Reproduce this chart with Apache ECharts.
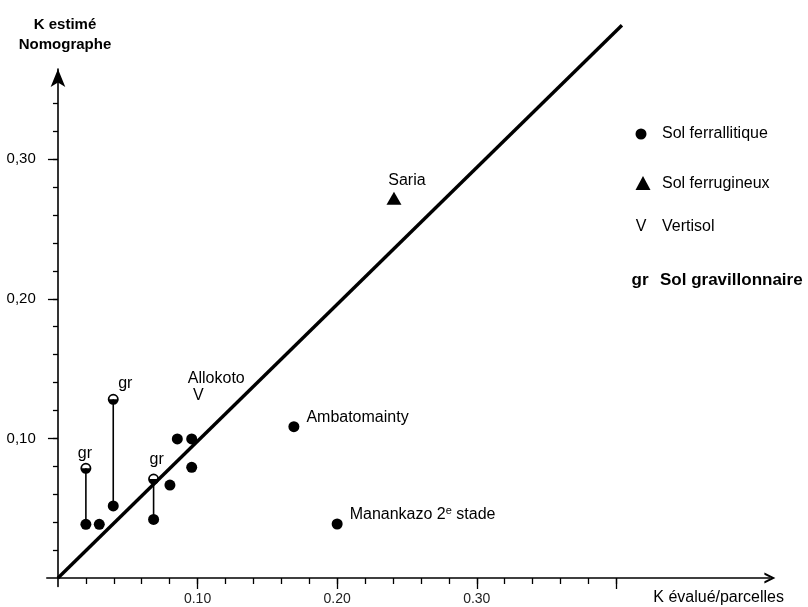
<!DOCTYPE html>
<html><head><meta charset="utf-8">
<script src="https://cdn.jsdelivr.net/npm/echarts@6/dist/echarts.min.js"></script>
<style>html,body{margin:0;padding:0;background:#fff}#c{width:808px;height:607px}</style>
</head><body><div id="c"></div>
<script>
// ---- data (K évalué / K estimé) ----
const lineOneToOne = [[0, 0], [0.404, 0.396]];
const ferrallitique = [[0.0200, 0.0385], [0.0296, 0.0385], [0.0396, 0.0516], [0.0685, 0.0420],
                       [0.0802, 0.0666], [0.0855, 0.0996], [0.0958, 0.0996], [0.0958, 0.0793]];
const ferrallitiqueNamed = [[0.169, 0.1084], [0.200, 0.0387]];
const ferrallitiqueNames = ['Ambatomainty', 'Manankazo 2e stade'];
const gravillonnaireTop = [[0.0200, 0.0786], [0.0396, 0.1280], [0.0685, 0.0709]];
const gravillonnaireBase = [[0.0200, 0.0385], [0.0396, 0.0516], [0.0685, 0.0420]];
const ferrugineux = [[0.2407, 0.272]];
const ferrugineuxNames = ['Saria'];
const vertisol = [[0.1005, 0.131]];
const vertisolNames = ['Allokoto'];
const xTickLabels = [0.10, 0.20, 0.30];
const yTickLabels = [0.10, 0.20, 0.30];
const xMajorTicks = [0.10, 0.20, 0.30, 0.40];
const yMajorTicks = [0.10, 0.20, 0.30];
const xMinorTicks = [0.02,0.04,0.06,0.08,0.10,0.12,0.14,0.16,0.18,0.20,0.22,0.24,0.26,0.28,0.30,0.32,0.34,0.36,0.38,0.40];
const yMinorTicks = [0.02,0.04,0.06,0.08,0.10,0.12,0.14,0.16,0.18,0.20,0.22,0.24,0.26,0.28,0.30,0.32,0.34];

// ---- layout / style ----
const FONT = "'Liberation Sans', Arial, Helvetica, sans-serif";
const INK = '#000';
const grLabelOffsets = [[-1, -15], [12, -16], [3, -19]];
const HALF = 'path://M0,5 A5,5 0 1,1 10,5 A5,5 0 1,1 0,5 Z M1.6,5 L8.4,5 A3.4,3.4 0 0,0 1.6,5 Z';

const X_MIN = -0.008, X_MAX = 0.510, Y_MIN = -0.006, Y_MAX = 0.3646;

function baseAxis(min, max) {
  return { type: 'value', min: min, max: max, gridIndex: 0, splitLine: { show: false } };
}
const solid = { color: INK, opacity: 1 };

const chart = echarts.init(document.getElementById('c'), null, { renderer: 'canvas' });

const series = [];
series.push({
  type: 'line', data: lineOneToOne, symbol: 'none', silent: true, z: 1, clip: false,
  lineStyle: { color: INK, width: 3.4, opacity: 1 }
});
gravillonnaireTop.forEach(function (p, i) {
  series.push({
    type: 'line', data: [p, gravillonnaireBase[i]], symbol: 'none', silent: true, z: 2, clip: false,
    lineStyle: { color: INK, width: 1.6, opacity: 1 }
  });
});
series.push({
  type: 'scatter', data: ferrallitique, symbol: 'circle', symbolSize: 11, z: 3, clip: false,
  itemStyle: solid
});
series.push({
  type: 'scatter', z: 3, symbol: 'circle', symbolSize: 11, itemStyle: solid, clip: false,
  data: ferrallitiqueNamed.map(function (v, i) { return { name: ferrallitiqueNames[i], value: v }; }),
  label: {
    show: true, position: 'right', distance: 7, offset: [0, -9], opacity: 1,
    fontFamily: FONT, fontSize: 16, color: INK,
    formatter: function (p) {
      return p.name.replace(' 2e ', ' 2{sup|e} ');
    },
    rich: { sup: { fontSize: 11, verticalAlign: 'top', padding: [0, 0, 8, 0], fontFamily: FONT, color: INK } }
  }
});
series.push({
  type: 'scatter', z: 3, symbol: HALF, symbolSize: 11, itemStyle: solid, clip: false,
  data: gravillonnaireTop.map(function (v, i) {
    return { value: v, label: { offset: grLabelOffsets[i] } };
  }),
  label: { show: true, position: 'inside', formatter: 'gr', fontFamily: FONT, fontSize: 16, color: INK, opacity: 1 }
});
series.push({
  type: 'scatter', z: 3, symbol: 'triangle', symbolSize: [15, 13], itemStyle: solid, clip: false,
  data: ferrugineux.map(function (v, i) { return { name: ferrugineuxNames[i], value: v }; }),
  label: { show: true, position: 'inside', offset: [13, -18], formatter: '{b}', opacity: 1,
           fontFamily: FONT, fontSize: 16, color: INK }
});
series.push({
  type: 'scatter', z: 3, symbol: 'circle', symbolSize: 1, itemStyle: { color: 'rgba(0,0,0,0)' }, clip: false,
  data: vertisol.map(function (v, i) { return { name: vertisolNames[i], value: v }; }),
  label: { show: true, position: 'inside', formatter: 'V', fontFamily: FONT, fontSize: 16, color: INK, opacity: 1 }
});
series.push({
  type: 'scatter', z: 3, symbol: 'circle', symbolSize: 1, itemStyle: { color: 'rgba(0,0,0,0)' }, clip: false,
  data: vertisol.map(function (v, i) { return { name: vertisolNames[i], value: v }; }),
  label: { show: true, position: 'inside', offset: [18, -17], formatter: '{b}', opacity: 1,
           fontFamily: FONT, fontSize: 16, color: INK }
});

const option = {
  animation: false,
  backgroundColor: '#fff',
  grid: { left: 46.8, top: 69, width: 723.1, height: 517.4, outerBoundsMode: 'none', containLabel: false },
  xAxis: [
    Object.assign(baseAxis(X_MIN, X_MAX), {
      position: 'bottom',
      axisLine: { show: true, onZero: true, symbol: ['none', 'path://M0,10 L5,0 L10,10 L8,10 L5,4 L2,10 Z'],
                  symbolSize: [11, 16], lineStyle: { color: INK, width: 1.6 } },
      axisTick: { show: true, inside: false, length: 6, customValues: xMinorTicks, lineStyle: { color: INK, width: 1.3 } },
      axisLabel: { show: true, customValues: xTickLabels, margin: 6, fontFamily: FONT, fontSize: 14, color: '#222',
                   formatter: function (v) { return v.toFixed(2); } }
    }),
    Object.assign(baseAxis(X_MIN, X_MAX), {
      position: 'bottom',
      axisLine: { show: true, onZero: true, symbol: 'none', lineStyle: { color: 'rgba(0,0,0,0)', width: 0 } },
      axisTick: { show: true, inside: false, length: 11, customValues: xMajorTicks, lineStyle: { color: INK, width: 1.3 } },
      axisLabel: { show: false }
    })
  ],
  yAxis: [
    Object.assign(baseAxis(Y_MIN, Y_MAX), {
      position: 'left',
      axisLine: { show: true, onZero: true, symbol: ['none', 'arrow'], symbolSize: [11, 18],
                  lineStyle: { color: INK, width: 1.6 } },
      axisTick: { show: true, inside: false, length: 5, customValues: yMinorTicks, lineStyle: { color: INK, width: 1.3 } },
      axisLabel: { show: true, customValues: yTickLabels, margin: 11, fontFamily: FONT, fontSize: 15, color: INK,
                   formatter: function (v) { return v.toFixed(2).replace('.', ','); } }
    }),
    Object.assign(baseAxis(Y_MIN, Y_MAX), {
      position: 'left',
      axisLine: { show: true, onZero: true, symbol: 'none', lineStyle: { color: 'rgba(0,0,0,0)', width: 0 } },
      axisTick: { show: true, inside: false, length: 10, customValues: yMajorTicks, lineStyle: { color: INK, width: 1.3 } },
      axisLabel: { show: false }
    })
  ],
  series: series,
  graphic: [
    { type: 'text', x: 65, y: 15, style: { text: 'K estimé\nNomographe', fontFamily: FONT, fontSize: 15,
      fontWeight: 'bold', fill: INK, align: 'center', verticalAlign: 'top', lineHeight: 20 } },
    { type: 'text', x: 784, y: 598, style: { text: 'K évalué/parcelles', fontFamily: FONT, fontSize: 16,
      fill: INK, align: 'right', verticalAlign: 'middle' } },
    // legend
    { type: 'circle', shape: { cx: 641, cy: 134, r: 5.5 }, style: { fill: INK } },
    { type: 'text', x: 662, y: 134, style: { text: 'Sol ferrallitique', fontFamily: FONT, fontSize: 16, fill: INK, verticalAlign: 'middle' } },
    { type: 'polygon', shape: { points: [[643, 176], [650.5, 190], [635.5, 190]] }, style: { fill: INK } },
    { type: 'text', x: 662, y: 184, style: { text: 'Sol ferrugineux', fontFamily: FONT, fontSize: 16, fill: INK, verticalAlign: 'middle' } },
    { type: 'text', x: 641, y: 227, style: { text: 'V', fontFamily: FONT, fontSize: 16, fill: INK, align: 'center', verticalAlign: 'middle' } },
    { type: 'text', x: 662, y: 227, style: { text: 'Vertisol', fontFamily: FONT, fontSize: 16, fill: INK, verticalAlign: 'middle' } },
    { type: 'text', x: 640, y: 280, style: { text: 'gr', fontFamily: FONT, fontSize: 17, fontWeight: 'bold', fill: INK, align: 'center', verticalAlign: 'middle' } },
    { type: 'text', x: 660, y: 280, style: { text: 'Sol gravillonnaire', fontFamily: FONT, fontSize: 17, fontWeight: 'bold', fill: INK, verticalAlign: 'middle' } }
  ]
};
chart.setOption(option);
</script>
</body></html>
